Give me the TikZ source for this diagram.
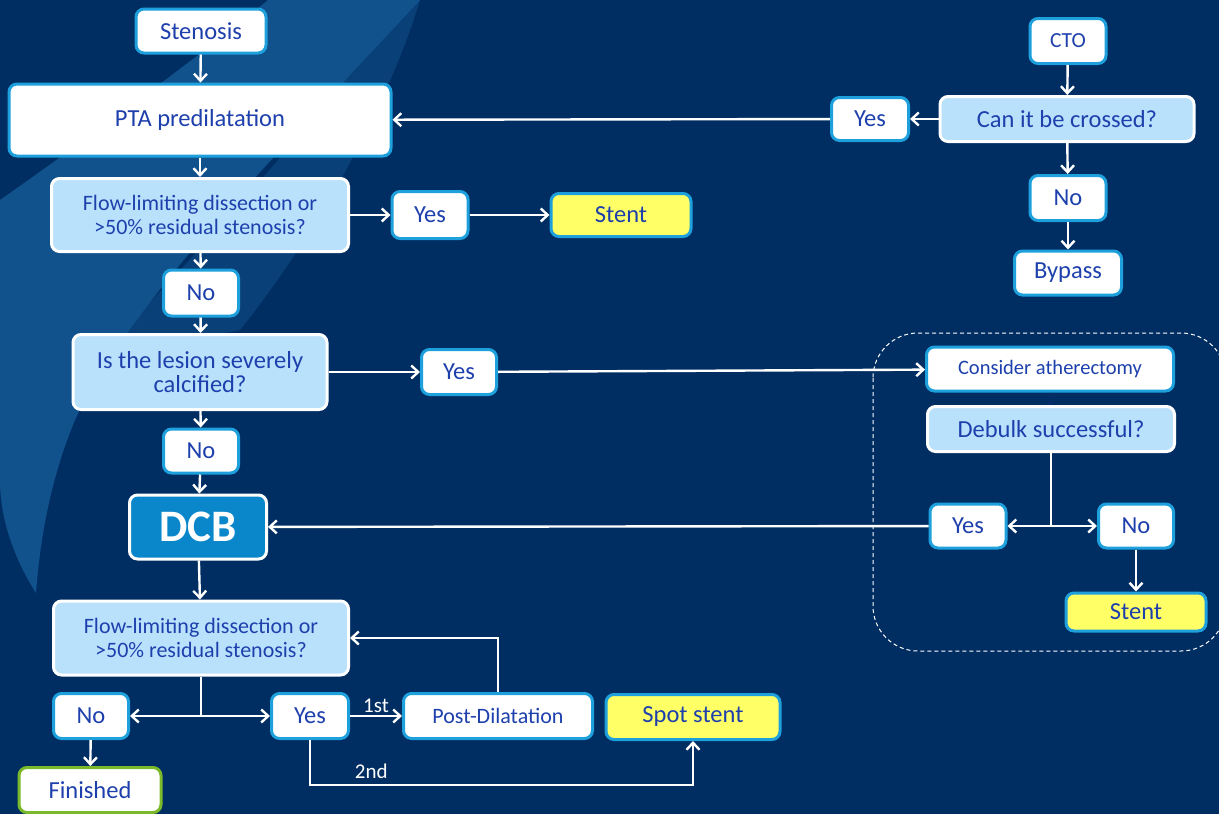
\documentclass[tikz,border=0pt]{standalone}
\usepackage{fontspec}
\setmainfont{Carlito}
\usetikzlibrary{arrows.meta}
\definecolor{navy}{RGB}{0,46,99}
\definecolor{swoosh}{RGB}{18,82,140}
\definecolor{textblue}{RGB}{30,64,172}
\definecolor{cyanb}{RGB}{30,160,220}
\definecolor{lightq}{RGB}{185,225,252}
\definecolor{dcbblue}{RGB}{10,134,202}
\definecolor{yellowb}{RGB}{255,255,102}
\definecolor{greenb}{RGB}{122,186,42}

\begin{document}
\begin{tikzpicture}[x=1pt,y=-1pt]
			\tikzstyle{box} = [rectangle,rounded corners=8pt,draw=cyanb,line width=3pt,fill=white,text=textblue,align=center,inner sep=0pt,font=\fontsize{24.5}{24}\selectfont]
			\tikzstyle{quest} = [box,draw=white,fill=lightq]
			\tikzstyle{stentbox} = [box,fill=yellowb]
			\tikzstyle{finbox} = [box,draw=greenb]
			\tikzstyle{dcbbox} = [box,draw=white,fill=dcbblue,text=white,font=\fontsize{45}{45}\selectfont\bfseries]
			\tikzstyle{lbl} = [text=white,font=\fontsize{21}{21}\selectfont,inner sep=2pt]
			\tikzstyle{edge} = [draw=white,line width=2.4pt,-{Straight Barb[length=7pt,width=13pt]}]
			\tikzstyle{line} = [draw=white,line width=2.4pt]
			% background and brush stroke
			\fill[navy] (0,0) rectangle (1219,814);
			\useasboundingbox (0,0) rectangle (1219,814);
			\fill[swoosh] (268,0) -- (420,0) .. controls (300,130) and (130,300) .. (75,420) .. controls (50,480) and (40,540) .. (36,593) .. controls (15,560) and (0,520) .. (0,480) -- (0,200) .. controls (100,130) and (220,40) .. (268,0) -- cycle;
			\fill[swoosh,opacity=0.5] (420,0) .. controls (390,100) and (320,230) .. (240,330) .. controls (200,340) and (150,330) .. (110,345) .. controls (200,250) and (330,110) .. (400,0) -- cycle;
			% left column
			\node[box,minimum width=130,minimum height=44] (sten) at (201,31) {Stenosis};
			\node[box,minimum width=382,minimum height=72] (pta) at (200,120) {PTA predilatation};
			\node[quest,minimum width=297,minimum height=73,font=\fontsize{22}{23.5}\selectfont] (flowa) at (200,215) {Flow-limiting dissection or\\>50\% residual stenosis?};
			\node[box,minimum width=76,minimum height=47] (yesa) at (430,215) {Yes};
			\node[stentbox,minimum width=140,minimum height=43] (stenta) at (621,215) {Stent};
			\node[box,minimum width=75,minimum height=46] (noa) at (201,293) {No};
			\node[quest,minimum width=254,minimum height=75] (calc) at (200,372) {Is the lesion severely\\calcified?};
			\node[box,minimum width=75,minimum height=45] (yesb) at (459,372) {Yes};
			\node[box,minimum width=75,minimum height=44] (nob) at (201,451) {No};
			\node[dcbbox,minimum width=137,minimum height=64] (dcb) at (198,527) {DCB};
			\node[quest,minimum width=295,minimum height=74,font=\fontsize{22}{23.5}\selectfont] (flowb) at (201,638) {Flow-limiting dissection or\\>50\% residual stenosis?};
			\node[box,minimum width=75,minimum height=45] (noe) at (91,716) {No};
			\node[box,minimum width=77,minimum height=45] (yese) at (310,716) {Yes};
			\node[box,minimum width=189,minimum height=45,font=\fontsize{22}{22}\selectfont] (postd) at (498,716) {Post-Dilatation};
			\node[stentbox,minimum width=174,minimum height=45] (spot) at (693,717) {Spot stent};
			\node[finbox,minimum width=142,minimum height=45] (fin) at (90,790) {Finished};
			% CTO column
			\node[box,minimum width=76,minimum height=45,font=\fontsize{21.5}{22}\selectfont] (cto) at (1068,41) {CTO};
			\node[quest,minimum width=254,minimum height=45] (cross) at (1067,119) {Can it be crossed?};
			\node[box,minimum width=77,minimum height=43] (yesd) at (870,119) {Yes};
			\node[box,minimum width=76,minimum height=45] (nod) at (1068,198) {No};
			\node[box,minimum width=107,minimum height=44] (bypass) at (1068,273) {Bypass};
			% atherectomy group
			\draw[white,line width=1pt,dash pattern=on 4pt off 3pt,rounded corners=45pt] (873,333) rectangle (1226,651);
			\node[box,minimum width=247,minimum height=44,font=\fontsize{20.5}{21}\selectfont] (ather) at (1050,369) {Consider atherectomy};
			\node[quest,minimum width=247,minimum height=45] (debulk) at (1051,429) {Debulk successful?};
			\node[box,minimum width=76,minimum height=44] (yesc) at (968,526) {Yes};
			\node[box,minimum width=75,minimum height=44] (noc) at (1136,526) {No};
			\node[stentbox,minimum width=140,minimum height=38] (stentb) at (1136,612) {Stent};
			\coordinate (c2) at (693,785);
			% connectors
			\draw[edge] (sten)--(pta);
			\draw[edge] (pta)--(flowa);
			\draw[edge] (flowa)--(yesa);
			\draw[edge] (yesa)--(stenta);
			\draw[edge] (flowa)--(noa);
			\draw[edge] (noa)--(calc);
			\draw[edge] (calc)--(yesb);
			\draw[edge] (yesb)--(ather);
			\draw[edge] (calc)--(nob);
			\draw[edge] (nob)--(dcb);
			\draw[edge] (dcb)--(flowb);
			\draw[line] (flowb.south)--(flowb.south |- yese) coordinate (splitb);
			\draw[edge] (splitb)--(noe);
			\draw[edge] (splitb)--(yese);
			\draw[edge] (noe)--(fin);
			\draw[edge] (yese)--node[lbl,above,pos=0.5]{1st} (postd);
			\draw[edge] (postd.north) |- (flowb.east);
			\draw[edge] (yese)--(yese |- c2)--node[lbl,above,pos=0.16,yshift=3pt]{2nd} (c2)--(spot);
			\draw[edge] (cto)--(cross);
			\draw[edge] (cross)--(yesd);
			\draw[edge] (yesd)--(pta);
			\draw[edge] (cross)--(nod);
			\draw[edge] (nod)--(bypass);
			\draw[textblue!70!black,thin,-{Straight Barb[length=3pt,width=6pt]}] (ather)--(debulk);
			\draw[line] (debulk.south)--(debulk.south |- yesc) coordinate (splitc);
			\draw[edge] (splitc)--(yesc);
			\draw[edge] (splitc)--(noc);
			\draw[edge] (noc)--(stentb);
			\draw[edge] (yesc)--(dcb);
\end{tikzpicture}
\end{document}
